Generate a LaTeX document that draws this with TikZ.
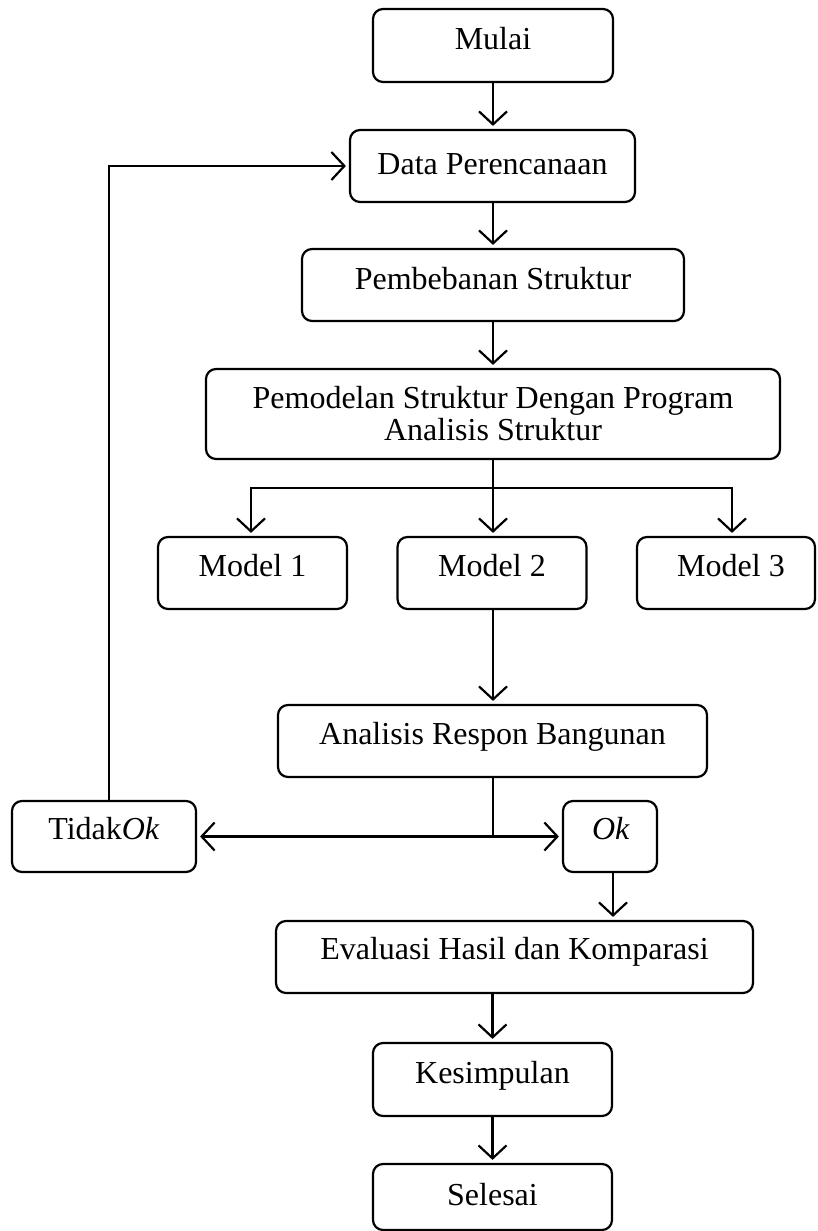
\documentclass[tikz,border=0pt]{standalone}
\usepackage{fontspec}
\setmainfont{Liberation Serif}
\usetikzlibrary{arrows.meta}
\newcommand{\tnr}{\fontsize{32}{33}\selectfont}
\tikzset{
  box/.style={draw, line width=2.2pt, rounded corners=10pt, inner sep=0pt},
  lbl/.style={anchor=base, inner sep=0pt, font=\tnr},
  ln/.style={line width=2.2pt},
  arr/.style={line width=2.2pt, shorten >=3pt, -{Straight Barb[length=13pt,width=28pt,line width=2.2pt]}}
}
\begin{document}
\begin{tikzpicture}[x=1pt,y=-1pt]
\useasboundingbox (0,0) rectangle (817,1231);
% boxes
\node[box, minimum width=240pt, minimum height=73pt] (mulai) at (493,45.5) {};
\node[box, minimum width=285pt, minimum height=72pt] (data) at (492.5,166) {};
\node[box, minimum width=382pt, minimum height=72pt] (beban) at (493,285) {};
\node[box, minimum width=574pt, minimum height=90pt] (pemod) at (493,414) {};
\node[box, minimum width=189pt, minimum height=72pt] (m1) at (252.5,573) {};
\node[box, minimum width=189pt, minimum height=72pt] (m2) at (492,573) {};
\node[box, minimum width=178pt, minimum height=72pt] (m3) at (726,573) {};
\node[box, minimum width=429pt, minimum height=72pt] (anal) at (492.5,741) {};
\node[box, minimum width=184pt, minimum height=71pt] (tidak) at (104,836.5) {};
\node[box, minimum width=94pt, minimum height=71pt] (ok) at (610,836.5) {};
\node[box, minimum width=477pt, minimum height=72pt] (eval) at (514.5,957) {};
\node[box, minimum width=239pt, minimum height=73pt] (kes) at (492.5,1079.5) {};
\node[box, minimum width=239pt, minimum height=66pt] (sel) at (492.5,1197) {};
% texts
\node[lbl] (tmulai) at (493,49) {Mulai};
\node[lbl] (tdata) at (492.5,174) {Data Perencanaan};
\node[lbl] (tbeban) at (493,289) {Pembebanan Struktur};
\node[lbl] (tpemod1) at (493,408) {Pemodelan Struktur Dengan Program};
\node[lbl] (tpemod2) at (493,440) {Analisis Struktur};
\node[lbl] (tm1) at (252.5,576) {Model 1};
\node[lbl] (tm2) at (492,576) {Model 2};
\node[lbl] (tm3) at (731,576) {Model 3};
\node[lbl] (tanal) at (492.5,744) {Analisis Respon Bangunan};
\node[lbl] (ttidak) at (104,839) {Tidak\textit{Ok}};
\node[lbl] (tok) at (611,839) {\textit{Ok}};
\node[lbl] (teval) at (514.5,959) {Evaluasi Hasil dan Komparasi};
\node[lbl] (tkes) at (492.5,1083) {Kesimpulan};
\node[lbl] (tsel) at (492.5,1205) {Selesai};
% connectors
\coordinate (br) at (493,488);
\coordinate (sp) at (493,836.5);
\draw[arr] (mulai.south) -- (mulai.south |- data.north);
\draw[arr] (data.south -| mulai.south) -- (beban.north);
\draw[arr] (beban.south) -- (pemod.north);
\draw[ln] (pemod.south) -- (br);
\draw[arr] (br) -- (br |- m2.north);
\draw[arr] (br) -| ([xshift=-1.5pt]m1.north);
\draw[arr] (br) -| ([xshift=6pt]m3.north);
\draw[arr] (br |- m2.south) -- (br |- anal.north);
\draw[ln] (anal.south -| br) -- (sp);
\draw[arr] (sp) -- (tidak.east);
\draw[arr] (sp) -- (ok.west);
\draw[arr] ([xshift=3pt]ok.south) -- ([xshift=3pt]ok.south |- eval.north);
\draw[arr] ([xshift=5pt]tidak.north) |- (data.west);
\draw[arr] (kes.north |- eval.south) -- (kes.north);
\draw[arr] (kes.south) -- (sel.north);
\end{tikzpicture}
\end{document}
